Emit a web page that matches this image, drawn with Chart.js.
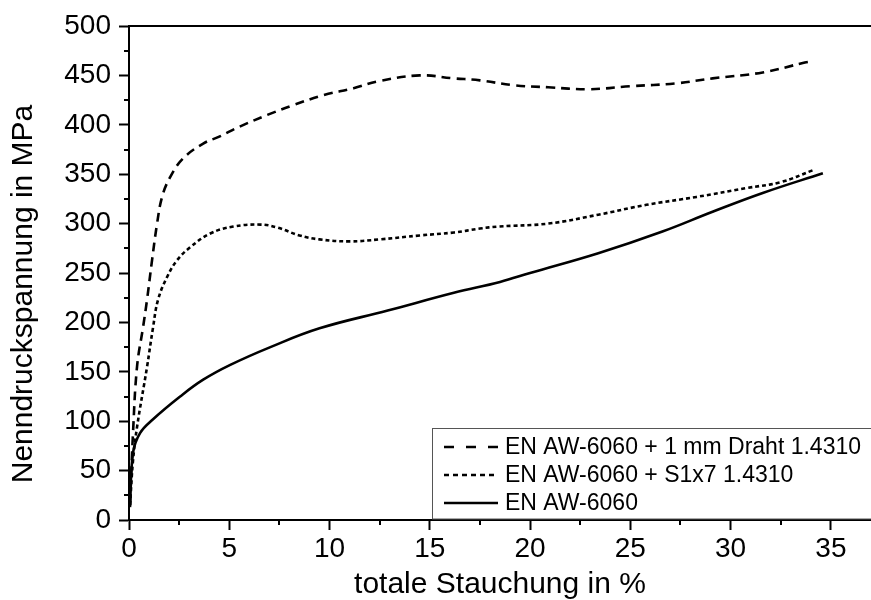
<!DOCTYPE html>
<html>
<head>
<meta charset="utf-8">
<script src="https://cdn.jsdelivr.net/npm/chart.js@4"></script>
<style>
  body { margin: 0; background: #fff; }
  canvas { display: block; }
</style>
</head>
<body>
<canvas id="canvas" width="871" height="600"></canvas>
<script>
// Werte
const labels = ['EN AW-6060 + 1 mm Draht 1.4310', 'EN AW-6060 + S1x7 1.4310', 'EN AW-6060'];

const xDraht = [0.05, 0.2, 0.4, 0.7, 0.9, 1.15, 1.4, 1.65, 2.05, 2.7, 3.7, 4.5, 5.5, 6.9, 8.2, 9.7, 11.2, 12.4, 14.5, 16.2, 17.5, 19.2, 20.9, 22.9, 25.0, 27.3, 29.1, 31.6, 33.7, 34.0];
const yDraht = [15, 88, 155, 195, 223, 263, 300, 327, 347, 366, 381, 388, 398, 410, 420, 430, 437, 444, 450, 447, 445, 440, 438, 436, 439, 442, 447, 453, 463, 464];

const xSeil = [0.05, 0.2, 0.4, 0.9, 1.2, 1.45, 1.9, 2.4, 3.05, 4.05, 5.2, 6.55, 7.4, 8.5, 9.5, 11.0, 12.5, 14.5, 16.2, 17.5, 18.4, 20.9, 23.4, 25.8, 28.3, 30.8, 32.5, 34.1];
const ySeil = [15, 60, 94, 155, 195, 223, 246, 263, 276, 290, 297, 299, 296, 288, 284, 282, 284, 288, 291, 295, 297, 300, 309, 319, 327, 336, 342, 354];

const xRein = [0.05, 0.2, 0.55, 1.2, 2.55, 3.7, 5.05, 7.05, 9.5, 12.9, 16.2, 18.5, 20.0, 23.4, 26.6, 29.1, 31.6, 34.6];
const yRein = [13, 68, 88, 102, 125, 142, 157, 175, 194, 212, 230, 241, 250, 270, 292, 312, 331, 351];

const xTicksMajor = [0, 5, 10, 15, 20, 25, 30, 35];
const yTicksMajor = [0, 50, 100, 150, 200, 250, 300, 350, 400, 450, 500];

const FONT = '"Liberation Sans", Arial, sans-serif';

function pts(xs, ys) {
    return xs.map((x, i) => ({x: x, y: ys[i]}));
}

const styles = [
    {dash: [9, 6], legendDash: [10, 12]},
    {dash: [4, 3], legendDash: [5, 4]},
    {dash: [], legendDash: []}
];

// kleine Zwischenstriche, Rahmen oben, Legende und y-Titel
const extras = {
    id: 'extras',
    afterDraw(chart) {
        const ctx = chart.ctx;
        const xs = chart.scales.x, ys = chart.scales.y;
        const area = chart.chartArea;
        ctx.save();
        ctx.strokeStyle = '#000';
        ctx.lineWidth = 2;
        ctx.beginPath();
        for (let i = 0; i < xTicksMajor.length; i++) {
            const v = xTicksMajor[i] + 2.5;
            if (v > xs.max) break;
            const px = Math.round(xs.getPixelForValue(v));
            ctx.moveTo(px, area.bottom);
            ctx.lineTo(px, area.bottom + 5);
        }
        for (let i = 0; i < yTicksMajor.length - 1; i++) {
            const py = Math.round(ys.getPixelForValue(yTicksMajor[i] + 25));
            ctx.moveTo(area.left, py);
            ctx.lineTo(area.left - 5, py);
        }
        // obere Rahmenlinie
        ctx.moveTo(area.left, area.top);
        ctx.lineTo(area.right, area.top);
        ctx.stroke();

        // Legende
        const lx = 432.5, ly = 428.5;
        ctx.fillStyle = '#fff';
        ctx.fillRect(lx, ly, area.right - lx + 5, area.bottom - ly - 1);
        ctx.strokeStyle = '#555';
        ctx.lineWidth = 1;
        ctx.strokeRect(lx, ly, area.right - lx + 5, area.bottom - ly - 1);
        ctx.font = '23px ' + FONT;
        ctx.textBaseline = 'middle';
        ctx.fillStyle = '#000';
        chart.data.datasets.forEach((ds, i) => {
            const y = 447 + i * 28;
            ctx.strokeStyle = '#000';
            ctx.lineWidth = 2.5;
            ctx.setLineDash(styles[i].legendDash);
            ctx.beginPath();
            ctx.moveTo(444, y);
            ctx.lineTo(498, y);
            ctx.stroke();
            ctx.setLineDash([]);
            ctx.fillText(ds.label, 505, y + 1);
        });

        // y-Achsentitel
        ctx.translate(24, 294);
        ctx.rotate(-Math.PI / 2);
        ctx.textAlign = 'center';
        ctx.font = '30px ' + FONT;
        ctx.fillText('Nenndruckspannung in MPa', 0, 0);
        ctx.restore();
    }
};

const datasets = [
    {label: labels[0], data: pts(xDraht, yDraht), borderDash: styles[0].dash},
    {label: labels[1], data: pts(xSeil, ySeil), borderDash: styles[1].dash},
    {label: labels[2], data: pts(xRein, yRein), borderDash: styles[2].dash}
].map(d => Object.assign(d, {
    borderColor: '#000',
    borderWidth: 2.6,
    pointRadius: 0,
    fill: false,
    tension: 0.4
}));

new Chart(document.getElementById('canvas').getContext('2d'), {
    type: 'line',
    data: {datasets: datasets},
    options: {
        responsive: false,
        animation: false,
        layout: {padding: {top: 26, right: 0, left: 0, bottom: 0}},
        plugins: {
            legend: {display: false},
            tooltip: {enabled: false}
        },
        scales: {
            x: {
                type: 'linear',
                min: 0,
                max: 37,
                afterFit(scale) { scale.height = 80; },
                border: {display: true, color: '#000', width: 2},
                grid: {drawOnChartArea: false, drawTicks: true, tickLength: 10, tickColor: '#000', tickWidth: 2},
                ticks: {
                    stepSize: 5,
                    includeBounds: false,
                    autoSkip: false,
                    maxRotation: 0,
                    padding: 2,
                    color: '#000',
                    font: {family: FONT, size: 28}
                },
                title: {
                    display: true,
                    text: 'totale Stauchung in %',
                    color: '#000',
                    font: {family: FONT, size: 30, lineHeight: 1},
                    padding: {top: 0, bottom: 0}
                }
            },
            y: {
                type: 'linear',
                min: 0,
                max: 500,
                afterFit(scale) { scale.width = 129; },
                border: {display: true, color: '#000', width: 2},
                grid: {drawOnChartArea: false, drawTicks: true, tickLength: 10, tickColor: '#000', tickWidth: 2},
                ticks: {
                    stepSize: 50,
                    autoSkip: false,
                    padding: 8,
                    color: '#000',
                    font: {family: FONT, size: 28}
                }
            }
        }
    },
    plugins: [extras]
});
</script>
</body>
</html>
